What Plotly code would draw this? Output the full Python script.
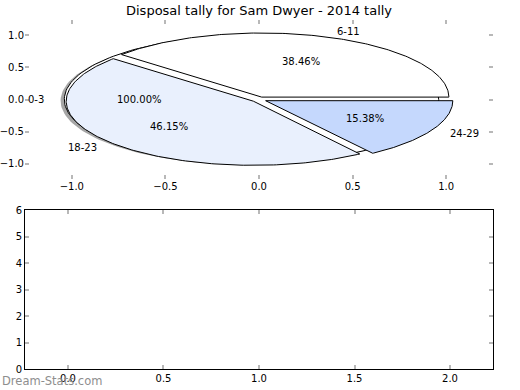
import numpy as np
import plotly.graph_objects as go

# ---- data ----
title_text = "Disposal tally for Sam Dwyer - 2014 tally"
inner_labels = ["0-3"]
inner_values = [1]
outer_labels = ["6-11", "18-23", "24-29"]
outer_values = [5, 6, 2]
outer_colors = ["#ffffff", "#e9f0fd", "#c5d8fd"]
inner_colors = ["#ffffff"]
explode = 0.04
top_xticks = [-1.0, -0.5, 0.0, 0.5, 1.0]
top_yticks = [-1.0, -0.5, 0.0, 0.5, 1.0]
bottom_xticks = [0.0, 0.5, 1.0, 1.5, 2.0]
bottom_yticks = [0, 1, 2, 3, 4, 5, 6]
watermark = "Dream-Stats.com"

FONT = "DejaVu Sans"
TICKC = "#b8b8b8"

fig = go.Figure()
annotations = []


def wedge(theta1, theta2, cx, cy, r=1.0, full=False):
    t = np.radians(np.linspace(theta1, theta2, 200))
    xs = cx + r * np.cos(t)
    ys = cy + r * np.sin(t)
    if full:
        return list(xs), list(ys)
    return [cx] + list(xs) + [cx], [cy] + list(ys) + [cy]


def draw_pie(values, labels, colors, shadow):
    total = float(sum(values))
    start = 0.0
    for v, lab, col in zip(values, labels, colors):
        frac = v / total
        end = start + 360.0 * frac
        mid = np.radians((start + end) / 2.0)
        cx, cy = explode * np.cos(mid), explode * np.sin(mid)
        full = frac >= 0.9999
        if shadow:
            sx, sy = wedge(start, end, cx - 0.02, cy - 0.02, full=full)
            fig.add_trace(go.Scatter(x=sx, y=sy, mode="lines", fill="toself",
                                     fillcolor="rgba(77,77,77,0.5)",
                                     line=dict(width=0), hoverinfo="skip",
                                     showlegend=False, xaxis="x", yaxis="y"))
        wx, wy = wedge(start, end, cx, cy, full=full)
        if full:
            wx = wx + [wx[0]]
            wy = wy + [wy[0]]
        fig.add_trace(go.Scatter(x=wx, y=wy, mode="lines", fill="toself",
                                 fillcolor=col, line=dict(color="black", width=1),
                                 hoverinfo="skip", showlegend=False,
                                 xaxis="x", yaxis="y"))
        lx = 1.1 * np.cos(mid) + cx
        ly = 1.1 * np.sin(mid) + cy
        annotations.append(dict(x=lx, y=ly, xref="x", yref="y", text=lab,
                                showarrow=False,
                                xanchor="left" if lx > 0 else "right",
                                yanchor="middle",
                                font=dict(family=FONT, size=10, color="black")))
        px = 0.6 * np.cos(mid) + cx
        py = 0.6 * np.sin(mid) + cy
        annotations.append(dict(x=px, y=py, xref="x", yref="y",
                                text="%.2f%%" % (100 * frac), showarrow=False,
                                xanchor="center", yanchor="middle",
                                font=dict(family=FONT, size=10, color="black")))
        start = end


draw_pie(inner_values, inner_labels, inner_colors, shadow=True)
draw_pie(outer_values, outer_labels, outer_colors, shadow=False)

# empty trace for bottom axes
fig.add_trace(go.Scatter(x=[], y=[], xaxis="x2", yaxis="y2", showlegend=False))

annotations.append(dict(text=title_text, xref="paper", yref="paper",
                        x=0.5, y=(390 - 10.5 - 21) / 349, xanchor="center",
                        yanchor="middle", showarrow=False,
                        font=dict(family=FONT, size=13, color="black")))
annotations.append(dict(text=watermark, xref="paper", yref="paper",
                        x=-25 / 468, y=(9 - 21) / 349, xanchor="left",
                        yanchor="middle", showarrow=False,
                        font=dict(family=FONT, size=11.5, color="#8e8e8e")))

tickfont = dict(family=FONT, size=10, color="black")
common = dict(showgrid=False, zeroline=False, ticks="inside", ticklen=4,
              tickwidth=2, tickcolor=TICKC, tickfont=tickfont, automargin=False)

fig.update_layout(
    width=520, height=390,
    margin=dict(l=25, r=27, t=20, b=21, autoexpand=False),
    paper_bgcolor="white", plot_bgcolor="white",
    annotations=annotations,
    xaxis=dict(domain=[0, 1], anchor="y", range=[-1.25, 1.25],
               tickvals=top_xticks, tickformat=".1f", showline=False,
               mirror="ticks", **common),
    yaxis=dict(domain=[1 - 159 / 349, 1], anchor="x", range=[-1.24, 1.24],
               tickvals=top_yticks, tickformat=".1f", showline=False,
               mirror="ticks", **common),
    xaxis2=dict(domain=[0, 1], anchor="y2", range=[-0.225, 2.225],
                tickvals=bottom_xticks, tickformat=".1f", showline=True,
                linecolor="black", linewidth=1, mirror="ticks", **common),
    yaxis2=dict(domain=[0, 159 / 349], anchor="x2", range=[0, 6],
                tickvals=bottom_yticks, showline=True,
                linecolor="black", linewidth=1, mirror="ticks", **common),
)

fig.write_html("out.html",
               config={"displayModeBar": False, "staticPlot": True},
               post_script="document.body.style.margin='0';"
                           "document.body.style.padding='0';")
